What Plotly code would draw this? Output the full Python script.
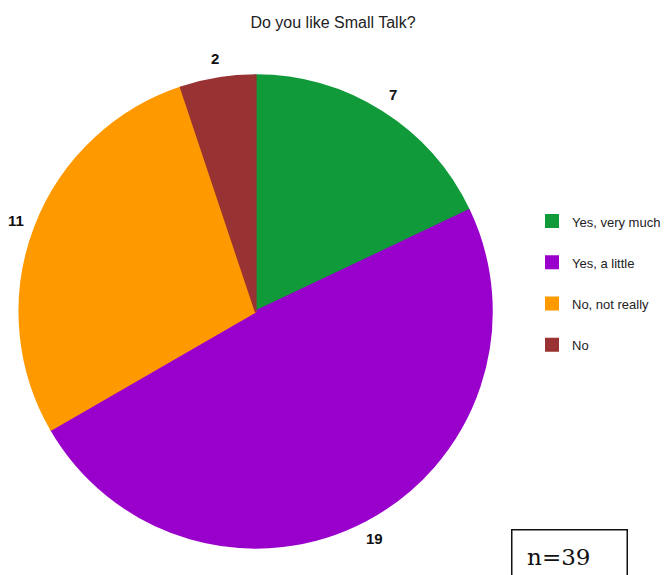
import math
import plotly.graph_objects as go

# Survey answers
categories = ["Yes, very much", "Yes, a little", "No, not really", "No"]
counts = [7, 19, 11, 2]
colors = ["#109a3a", "#9900cc", "#ff9900", "#993333"]
title = "Do you like Small Talk?"
sample_note = "n=" + str(sum(counts))

# Pie geometry in paper coordinates (fig is 666 x 575 px, no margins)
W, H = 666, 575
pie_x = [0.02928, 0.73949]
pie_y = [0.04696, 0.86957]

# Legend entries get an extra blank line so the rows sit further apart
legend_labels = [
    "<span style='font-size:13px'>" + c + "</span><br>\u00a0" for c in categories
]

fig = go.Figure(
    go.Pie(
        labels=legend_labels,
        values=counts,
        sort=False,
        direction="clockwise",
        rotation=0,
        marker=dict(colors=colors, line=dict(color=colors, width=2)),
        textinfo="none",
        domain=dict(x=pie_x, y=pie_y),
        hoverinfo="skip",
    )
)

# Value labels set just outside the rim at each slice's mid-angle
cx = (pie_x[0] + pie_x[1]) / 2 * W
cy = (pie_y[0] + pie_y[1]) / 2 * H
radius = (pie_y[1] - pie_y[0]) * H / 2
label_r = radius + 20
total = sum(counts)
annotations = []
start = 0.0
for v in counts:
    mid = (start + v / 2) / total * 2 * math.pi
    start += v
    px = cx + label_r * math.sin(mid)
    py = cy + label_r * math.cos(mid)
    annotations.append(dict(
        text="<b>" + str(v) + "</b>",
        xref="paper", yref="paper",
        x=px / W, y=py / H,
        xanchor="center", yanchor="middle",
        showarrow=False,
        font=dict(family="Liberation Sans, Arial, sans-serif", size=15, color="#111111"),
    ))

# Sample-size note in a framed box
annotations.append(dict(
    text="\u00a0\u00a0" + sample_note,
    xref="paper",
    yref="paper",
    x=512 / W,
    xanchor="left",
    y=1 - 529 / H,
    yanchor="top",
    width=114,
    height=52,
    align="left",
    valign="middle",
    showarrow=False,
    bordercolor="#111111",
    borderwidth=1.5,
    borderpad=0,
    bgcolor="white",
    font=dict(family="DejaVu Serif, serif", size=23, color="#111111"),
))

fig.update_layout(
    width=W,
    height=H,
    margin=dict(l=0, r=0, t=0, b=0),
    paper_bgcolor="white",
    plot_bgcolor="white",
    title=dict(
        text=title,
        x=0.5,
        xanchor="center",
        y=1 - 22 / H,
        yanchor="middle",
        font=dict(family="Liberation Sans, Arial, sans-serif", size=16, color="#222222"),
    ),
    legend=dict(
        x=0.80,
        xanchor="left",
        y=1 - 205 / H,
        yanchor="top",
        valign="top",
        font=dict(family="Liberation Sans, Arial, sans-serif", size=14.7, color="#222222"),
        bgcolor="rgba(0,0,0,0)",
    ),
    annotations=annotations,
)

fig.write_html("out.html")
